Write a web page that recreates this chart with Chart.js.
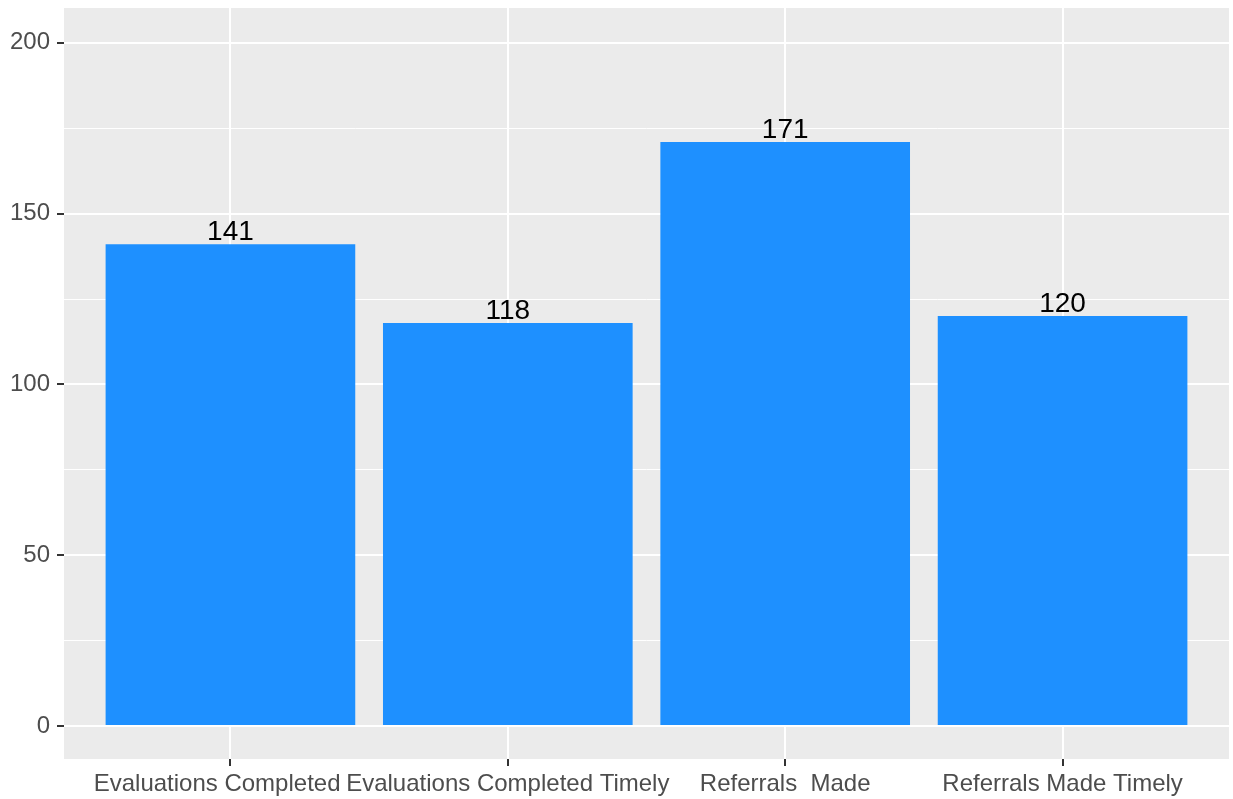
<!DOCTYPE html>
<html>
<head>
<meta charset="utf-8">
<script src="https://cdn.jsdelivr.net/npm/chart.js@4"></script>
<style>
  html, body { margin: 0; padding: 0; background: #fff; }
  #wrap { width: 1233px; height: 799px; }
</style>
</head>
<body>
<div id="wrap"><canvas id="chart" width="1233" height="799"></canvas></div>
<script>
// data (first label has trailing blanks in the source)
const categories = ["Evaluations Completed    ", "Evaluations Completed Timely", "Referrals  Made", "Referrals Made Timely"];
const counts = [141, 118, 171, 120];
const yTicks = [0, 25, 50, 75, 100, 125, 150, 175, 200];

const FONT = "'Liberation Sans', Arial, Helvetica, sans-serif";

// grey panel like ggplot
const panelBg = {
    id: "panelBg",
    beforeDraw(chart) {
        const { ctx, chartArea: a } = chart;
        ctx.save();
        ctx.fillStyle = "#EBEBEB";
        ctx.fillRect(a.left, a.top, a.right - a.left, a.bottom - a.top);
        ctx.restore();
    }
};

// count labels above bars
const barLabels = {
    id: "barLabels",
    afterDatasetsDraw(chart) {
        const ctx = chart.ctx;
        const meta = chart.getDatasetMeta(0);
        ctx.save();
        ctx.font = "28px " + FONT;
        ctx.fillStyle = "#000";
        ctx.textAlign = "center";
        ctx.textBaseline = "alphabetic";
        meta.data.forEach((bar, i) => {
            ctx.fillText(String(counts[i]), bar.x, bar.y - 4);
        });
        ctx.restore();
    }
};

const ctx = document.getElementById("chart").getContext("2d");
new Chart(ctx, {
    type: "bar",
    data: {
        datasets: [{
            data: counts.map((v, i) => ({ x: i + 1, y: v })),
            backgroundColor: "#1E90FF",
            barPercentage: 0.9,
            categoryPercentage: 1.0
        }]
    },
    plugins: [panelBg, barLabels],
    options: {
        responsive: false,
        animation: false,
        layout: { padding: { top: 8, right: 4, left: 0, bottom: 0 } },
        plugins: { legend: { display: false }, tooltip: { enabled: false } },
        scales: {
            x: {
                type: "linear",
                offset: false,
                min: 0.4,
                max: 4.6,
                afterBuildTicks: (scale) => { scale.ticks = [1, 2, 3, 4].map(v => ({ value: v })); },
                afterFit: (scale) => {
                    scale.height = 40;
                    scale.paddingLeft = 0;
                    scale.paddingRight = 0;
                },
                border: { display: false },
                grid: {
                    offset: false,
                    color: "#FFFFFF",
                    lineWidth: 2,
                    tickColor: "#333333",
                    tickWidth: 2,
                    tickLength: 7
                },
                ticks: {
                    autoSkip: false,
                    maxRotation: 0,
                    padding: 4,
                    color: "#4D4D4D",
                    font: { family: FONT, size: 24 },
                    callback: (v) => categories[v - 1]
                }
            },
            y: {
                min: -9.66,
                max: 210.2,
                afterBuildTicks: (scale) => { scale.ticks = yTicks.map(v => ({ value: v })); },
                afterFit: (scale) => {
                    scale.width = 64;
                    scale.paddingTop = 0;
                    scale.paddingBottom = 0;
                },
                border: { display: false },
                grid: {
                    color: "#FFFFFF",
                    lineWidth: (c) => (c.tick && c.tick.value % 50 === 0) ? 2 : 1,
                    tickColor: (c) => (c.tick && c.tick.value % 50 === 0) ? "#333333" : "rgba(0,0,0,0)",
                    tickWidth: 2,
                    tickLength: 7
                },
                ticks: {
                    padding: 7,
                    color: "#4D4D4D",
                    font: { family: FONT, size: 24 },
                    callback: (v) => (v % 50 === 0 ? String(v) : "")
                }
            }
        }
    }
});
</script>
</body>
</html>
